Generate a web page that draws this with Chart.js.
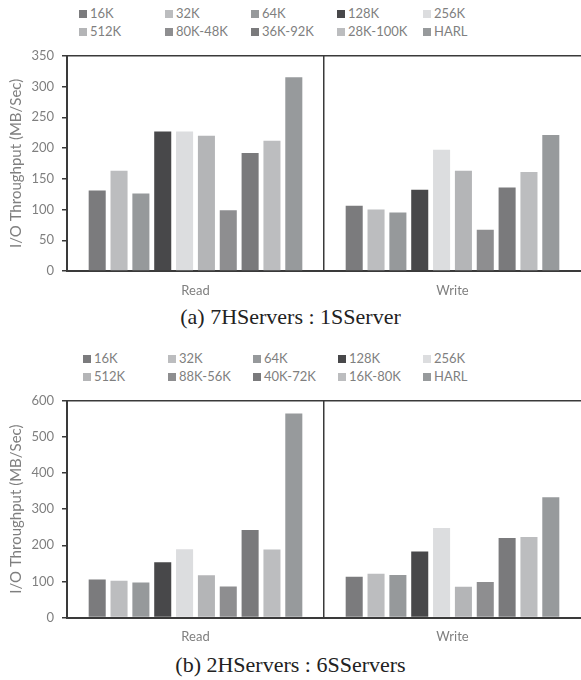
<!DOCTYPE html>
<html>
<head>
<meta charset="utf-8">
<script src="https://cdn.jsdelivr.net/npm/chart.js@4"></script>
<style>
    body { margin: 0; background: #fff; width: 581px; height: 680px; overflow: hidden; position: relative; }
    .box { position: absolute; left: 0; width: 581px; }
    .legend-item { position: absolute; font-family: Lato, sans-serif; font-size: 13px; color: #7f7f7f; line-height: 14px; white-space: nowrap; }
    .legend-item span { display: inline-block; width: 8px; height: 8px; margin-right: 3px; vertical-align: 0px; }
    .caption { position: absolute; left: 0; width: 581px; text-align: center; font-family: 'Liberation Serif', serif; font-size: 22px; color: #222; }
</style>
</head>
<body>
<div id="legendA"></div>
<div class="box" style="top: 40px; height: 260px;"><canvas id="chartA"></canvas></div>
<div class="caption" style="top: 304px;">(a) 7HServers : 1SServer</div>
<div id="legendB"></div>
<div class="box" style="top: 385px; height: 260px;"><canvas id="chartB"></canvas></div>
<div class="caption" style="top: 652px;">(b) 2HServers : 6SServers</div>
<script>
// Data (MB/Sec)
const groups = ['Read', 'Write'];

const seriesA = ['16K', '32K', '64K', '128K', '256K', '512K', '80K-48K', '36K-92K', '28K-100K', 'HARL'];
const readA  = [131, 163, 126, 227, 227, 220, 99, 192, 212, 315];
const writeA = [106, 100, 95, 132, 197, 163, 67, 136, 161, 221];

const seriesB = ['16K', '32K', '64K', '128K', '256K', '512K', '88K-56K', '40K-72K', '16K-80K', 'HARL'];
const readB  = [105, 102, 97, 153, 189, 117, 86, 242, 188, 565];
const writeB = [113, 121, 118, 183, 248, 85, 98, 220, 223, 333];

const colors = ['#7b7b7d', '#bcbdbf', '#96999b', '#48484a', '#dcdddf', '#b4b5b7', '#8e8e90', '#7a7a7c', '#bcbdbf', '#979a9c'];

const axisColor = '#3a3a3a';
const textColor = '#7f7f7f';

function buildLegend(el, labels, top, left0, step) {
    labels.forEach(function (label, i) {
        const item = document.createElement('div');
        item.className = 'legend-item';
        item.style.top = (top + Math.floor(i / 5) * 18) + 'px';
        item.style.left = (left0 + (i % 5) * step) + 'px';
        const sw = document.createElement('span');
        sw.style.background = colors[i];
        item.appendChild(sw);
        item.appendChild(document.createTextNode(label));
        el.appendChild(item);
    });
}

function makeChart(id, labels, reads, writes, yMax, yStep, xHeight) {
    const datasets = labels.map(function (label, i) {
        return {
            label: label,
            data: [reads[i], writes[i]],
            backgroundColor: colors[i],
            borderWidth: 0,
            categoryPercentage: 0.85,
            barPercentage: 0.78
        };
    });

    return new Chart(document.getElementById(id), {
        type: 'bar',
        data: { labels: groups, datasets: datasets },
        options: {
            responsive: true,
            maintainAspectRatio: false,
            animation: false,
            layout: { padding: { top: 11, right: 0, bottom: 0, left: 0 } },
            plugins: { legend: { display: false }, tooltip: { enabled: false } },
            scales: {
                x: {
                    offset: true,
                    border: { display: true, color: axisColor, width: 2 },
                    grid: {
                        offset: true,
                        drawTicks: false,
                        color: ctx => ctx.index === 1 ? axisColor : 'rgba(0,0,0,0)',
                        lineWidth: 1.5
                    },
                    ticks: { color: textColor, padding: 12, font: { family: 'Lato', size: 13 } },
                    afterFit: scale => { scale.height = xHeight; }
                },
                y: {
                    min: 0,
                    max: yMax,
                    border: { display: true, color: axisColor, width: 2 },
                    grid: {
                        color: ctx => ctx.tick && ctx.tick.value === yMax ? axisColor : 'rgba(0,0,0,0)',
                        lineWidth: 1.5,
                        tickColor: axisColor,
                        tickLength: 5
                    },
                    ticks: { stepSize: yStep, color: textColor, padding: 8, font: { family: 'Lato', size: 13 } },
                    title: {
                        display: true,
                        text: 'I/O Throughput (MB/Sec)',
                        color: textColor,
                        font: { family: 'Lato', size: 15 },
                        padding: { top: 7, bottom: 0 }
                    },
                    afterFit: scale => { scale.width = 67; }
                }
            }
        }
    });
}

buildLegend(document.getElementById('legendA'), seriesA, 6, 79, 86);
buildLegend(document.getElementById('legendB'), seriesB, 351, 83, 85);

makeChart('chartA', seriesA, readA, writeA, 350, 50, 29);
makeChart('chartB', seriesB, readB, writeB, 600, 100, 27.5);
</script>
</body>
</html>
